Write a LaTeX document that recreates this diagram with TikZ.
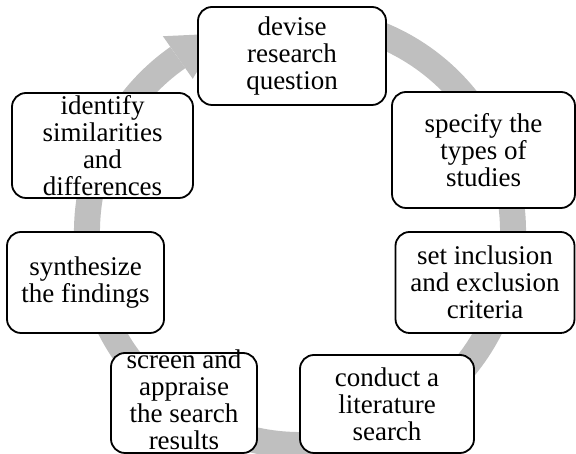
\documentclass[tikz,border=0pt]{standalone}
\usepackage{fontspec}
\setmainfont{Liberation Serif}
\usetikzlibrary{calc}
\definecolor{ringgray}{RGB}{191,191,191}
\tikzset{
  stagebox/.style={draw=black, line width=1.8pt, rounded corners=14pt, fill=white, inner sep=0pt},
  stagetext/.style={align=center, inner sep=0pt, font=\fontsize{27}{27}\selectfont},
}
\begin{document}
\begin{tikzpicture}[x=1pt,y=1pt]
\useasboundingbox (0,0) rectangle (576,454);
\coordinate (c) at (300,222);
% circular arrow
\draw[ringgray, line width=26pt] (c) ++(75:213) arc[start angle=75, end angle=-235, radius=213];
\fill[ringgray] ($(c)+(125:239)$) -- ($(c)+(112:214)$) -- ($(c)+(125:187)$) -- cycle;
% boxes
\node[stagebox, minimum width=188pt, minimum height=98pt] (b1) at (292,398) {};
\node[stagebox, minimum width=183pt, minimum height=116pt] (b2) at (483.5,304) {};
\node[stagebox, minimum width=179pt, minimum height=101pt] (b3) at (485,171.5) {};
\node[stagebox, minimum width=174pt, minimum height=98pt] (b4) at (387,50) {};
\node[stagebox, minimum width=146pt, minimum height=100pt] (b5) at (184,51) {};
\node[stagebox, minimum width=157pt, minimum height=101pt] (b6) at (85.5,171.5) {};
\node[stagebox, minimum width=181pt, minimum height=105pt] (b7) at (102.5,308.5) {};
% texts
\node[stagetext] (t1) at (b1.center) {devise\\research\\question};
\node[stagetext] (t2) at (b2.center) {specify the\\types of\\studies};
\node[stagetext] (t3) at (b3.center) {set inclusion\\and exclusion\\criteria};
\node[stagetext] (t4) at (b4.center) {conduct a\\literature\\search};
\node[stagetext] (t5) at ([yshift=3pt]b5.center) {screen and\\appraise\\the search\\results};
\node[stagetext] (t6) at (b6.center) {synthesize\\the findings};
\node[stagetext] (t7) at (b7.center) {identify\\similarities\\and\\differences};
\end{tikzpicture}
\end{document}
